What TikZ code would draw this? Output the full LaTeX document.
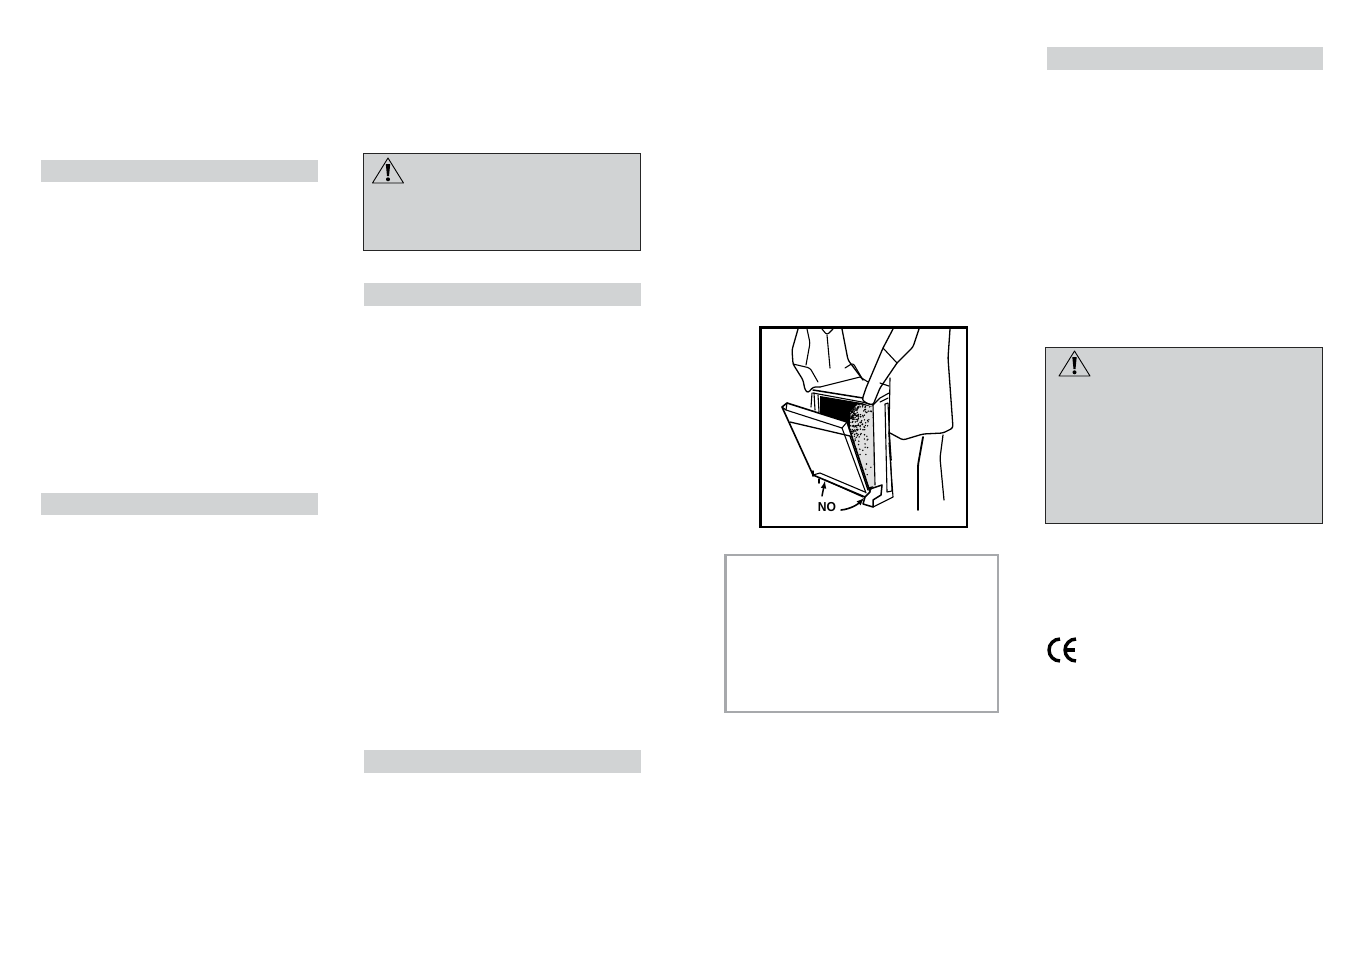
\documentclass[tikz,border=0pt]{standalone}
\usepackage{fontspec}
\setsansfont{Liberation Sans}
\definecolor{bargray}{HTML}{D1D3D4}
\definecolor{framegray}{HTML}{A7A9AC}
\tikzset{
	headbar/.style={fill=bargray,draw=none},
	warnbox/.style={fill=bargray,draw=black!85,line width=.8},
	notebox/.style={draw=framegray,line width=2.5,fill=white},
	ink/.style={line width=1.1,line join=round,line cap=round},
	wear/.style={ink,rounded corners=2.5},
	warnsign/.pic={
		\draw[line width=.9,line join=round] (0,0) -- (-15.5,25) -- (15.5,25) -- cycle;
		\fill (-2.2,6) -- (2.2,6) -- (1,18) -- (-1,18) -- cycle;
		\fill (0,21.3) circle (2);
	}
}
\begin{document}
\begin{tikzpicture}[x=1pt,y=-1pt]
\useasboundingbox (0,0) rectangle (1351,954);
\fill[headbar] (41,160) rectangle (318,182);
\fill[headbar] (41,493) rectangle (318,515);
\fill[headbar] (364,283) rectangle (641,306);
\fill[headbar] (364,750) rectangle (641,773);
\fill[headbar] (1047,47) rectangle (1323,70);
\draw[warnbox] (363.5,153.5) rectangle (640.5,250.5);
\draw[warnbox] (1045.5,347.5) rectangle (1322.5,523.5);
\pic at (388,158) {warnsign};
\pic at (1074.5,351) {warnsign};
\draw[notebox] (725.5,555) rectangle (998,712);
\draw[line width=2.8] (760.5,327.5) rectangle (967,527);
% CE mark
\draw[line width=3.4] (1060,661) arc (90:270:11);
\draw[line width=3.4] (1076,661) arc (90:270:11);
\draw[line width=3.2] (1066,650) -- (1075,650);
% inside of the cabinet
\fill (820,396) -- (862,403) -- (873,407) -- (874,485) -- (870,492) -- (847,422) -- (820,413) -- cycle;
\begin{scope}
	\clip (858,404) -- (873,407) -- (874,486) -- (869,487) -- (850,431) -- (850,412) -- cycle;
	\fill[white!88!black] (845,400) rectangle (880,490);
	\pgfmathsetseed{11}
	\foreach \i in {1,...,420}
		\fill (848+26*rnd*rnd,402+84*rnd*rnd) circle (.8);
\end{scope}
% cabinet
\draw[ink] (820,387) -- (860,377) -- (868,382);
\draw[ink] (889,386) -- (880,383);
\draw[ink,line width=1.5] (813,390) -- (863,398);
\draw[ink] (813,393) -- (862,402) -- (873,405);
\draw[ink] (812,393) -- (811,407);
\draw[ink] (814,393) -- (815,410);
\draw[ink] (818,395) -- (819,412);
\draw[ink] (873,405) -- (875,485);
\draw[ink] (873,405) -- (880,398) -- (889,393);
\draw[ink] (880,402) -- (888,398);
\draw[ink] (885,404) -- (888,403) -- (892,491) -- (887,492) -- cycle;
\draw[ink] (889,443) -- (893,497) -- (873,507);
\draw[ink,line width=1.6] (889,433) -- (891,460);
% door
\draw[ink,line width=1.6,fill=white] (782,407) -- (787,403) -- (847,422) -- (870,492) -- (865,497) -- (813,475) -- cycle;
\draw[ink] (787,403) -- (786,410) -- (842,428) -- (847,422);
\draw[ink] (786,410) -- (782,407);
\draw[ink,line width=1.3] (790,422) -- (850,436) -- (868,490);
\draw[ink] (842,428) -- (866,493);
\draw[ink] (813,475) -- (820,473) -- (865,492);
% plinth and feet
\draw[ink,line width=1.5] (865,497) -- (863,504) -- (873,507) -- (873,500) -- (881,495) -- (882,485) -- (870,489);
\draw[ink] (825,480) -- (863,497);
\draw[ink,line width=1.5] (813,471) -- (813,476);
\draw[ink,line width=1.5] (819,479) -- (819,483);
% person behind
\draw[wear,line width=1.3] (798,329) -- (792,350) -- (793,364) -- (803,380) -- (805,390) -- (808,393) -- (813,387) -- (820,387);
\draw[wear] (793,364) -- (810,368) -- (818,382);
\draw[wear] (807,329) -- (810,343) -- (806,365);
\draw[wear] (822,329) -- (827,335) -- (833,329);
\draw[ink] (827,335) -- (830,368);
\draw[wear,line width=1.3] (842,329) -- (848,360) -- (863,380);
\draw[wear] (845,368) -- (853,363) -- (863,380);
% person in front
\draw[wear,line width=1.3] (893,329) -- (883,348) -- (866,388) -- (862,400) -- (868,404) -- (873,405) -- (880,388) -- (897,363);
\draw[wear] (883,348) -- (897,363);
\draw[wear,line width=1.3] (919,329) -- (913,347) -- (897,363);
\draw[wear] (890,378) -- (889,433);
\draw[wear,line width=1.3] (950,329) -- (948,358) -- (953,428) -- (943,433) -- (923,434) -- (903,440) -- (890,433);
\draw[wear,line width=1.8] (923,437) -- (918,465) -- (918,510);
\draw[wear,line width=1.2] (943,435) -- (940,458) -- (944,500);
% marks
\draw[ink,line width=1.5,-latex] (822,496) -- (825,481);
\draw[ink,line width=1.6,-latex] (841,510) .. controls (851,509) and (858,504) .. (864,498);
\node (no) at (827,507.5) [font=\sffamily\bfseries\fontsize{13}{13}\selectfont,xscale=.93,inner sep=0] {NO};
\end{tikzpicture}
\end{document}
